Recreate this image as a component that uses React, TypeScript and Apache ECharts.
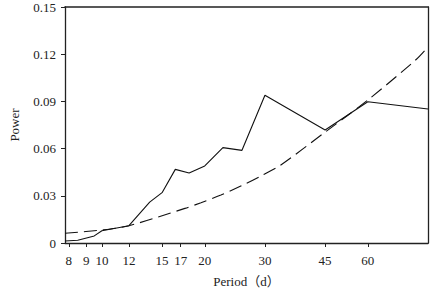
import React, { useEffect, useRef } from "react";
import * as echarts from "echarts";

const tickPeriods = [8, 9, 10, 12, 15, 17, 20, 30, 45, 60];
const yTicks = [0, 0.03, 0.06, 0.09, 0.12, 0.15];

const powerPeriods = [7.8, 8.5, 9.5, 10, 12, 13.8, 15, 16.4, 18, 20, 22.6, 25.7, 30, 45, 60, 90];
const powerValues = [0.0013, 0.0017, 0.0045, 0.0078, 0.011, 0.026, 0.032, 0.0468, 0.0445, 0.049, 0.0606, 0.0589, 0.0939, 0.0718, 0.0898, 0.0852];

const refPeriods = [7.8, 10, 12, 17.5, 19.5, 22.3, 25.5, 29.2, 33.4, 45.2, 60, 82.8, 90];
const refValues = [0.0062, 0.0083, 0.011, 0.022, 0.0256, 0.0305, 0.0362, 0.0426, 0.0496, 0.0708, 0.0909, 0.1163, 0.1246];

const FONT = "'Liberation Serif', 'Times New Roman', serif";

export default function App() {
  const ref = useRef<HTMLDivElement>(null);
  useEffect(() => {
    if (!ref.current) return;
    const chart = echarts.init(ref.current, undefined, { renderer: "svg" });
    const ticks = tickPeriods.map((p) => Math.log(p));
    const xMin = Math.log(7.8);
    const xMax = Math.log(90);
    const yMin = yTicks[0];
    const yMax = yTicks[yTicks.length - 1];
    const lineCol = "#222";
    chart.setOption({
      animation: false,
      backgroundColor: "#fff",
      grid: { left: 63, right: 7, top: 7, bottom: 53 },
      xAxis: [
        {
          type: "value",
          min: xMin,
          max: xMax,
          name: "Period（d）",
          nameLocation: "middle",
          nameGap: 32,
          nameTextStyle: { fontFamily: FONT + ", 'Noto Sans CJK SC'", fontSize: 13, color: lineCol },
          axisLine: { show: true, onZero: false, lineStyle: { color: lineCol, width: 1.3 } },
          axisTick: { show: true, length: 4, customValues: ticks, lineStyle: { color: lineCol } },
          axisLabel: {
            customValues: ticks,
            formatter: (v: number) => String(Math.round(Math.exp(v))),
            fontFamily: FONT,
            fontSize: 13,
            color: lineCol,
            margin: 11,
          },
          splitLine: { show: false },
        },
        {
          type: "value",
          position: "top",
          min: xMin,
          max: xMax,
          axisLine: { show: true, onZero: false, lineStyle: { color: lineCol, width: 1.6 } },
          axisTick: { show: false },
          axisLabel: { show: false },
          splitLine: { show: false },
        },
      ],
      yAxis: [
        {
          type: "value",
          min: yMin,
          max: yMax,
          interval: 0.03,
          name: "Power",
          nameLocation: "middle",
          nameGap: 44,
          nameTextStyle: { fontFamily: FONT, fontSize: 13, color: lineCol },
          axisLine: { show: true, lineStyle: { color: lineCol, width: 1.3 } },
          axisTick: { show: true, length: 4, lineStyle: { color: lineCol } },
          axisLabel: {
            formatter: (v: number) => (v === 0 ? "0" : v.toFixed(2)),
            fontFamily: FONT,
            fontSize: 13,
            color: lineCol,
            margin: 9,
          },
          splitLine: { show: false },
        },
        {
          type: "value",
          position: "right",
          min: yMin,
          max: yMax,
          interval: 0.03,
          axisLine: { show: true, onZero: false, lineStyle: { color: lineCol, width: 1.3 } },
          axisTick: { show: false },
          axisLabel: { show: false },
          splitLine: { show: false },
        },
      ],
      series: [
        {
          type: "line",
          data: powerPeriods.map((p, i) => [Math.log(p), powerValues[i]]),
          showSymbol: false,
          lineStyle: { color: "#111", width: 1.1 },
        },
        {
          type: "line",
          data: refPeriods.map((p, i) => [Math.log(p), refValues[i]]),
          showSymbol: false,
          smooth: 0.3,
          lineStyle: { color: "#111", width: 1.1, type: [13, 6] },
        },
      ],
    });
    return () => chart.dispose();
  }, []);
  return (
    <div
      ref={ref}
      style={{ position: "absolute", left: 0, top: 0, width: 435, height: 296 }}
    />
  );
}
